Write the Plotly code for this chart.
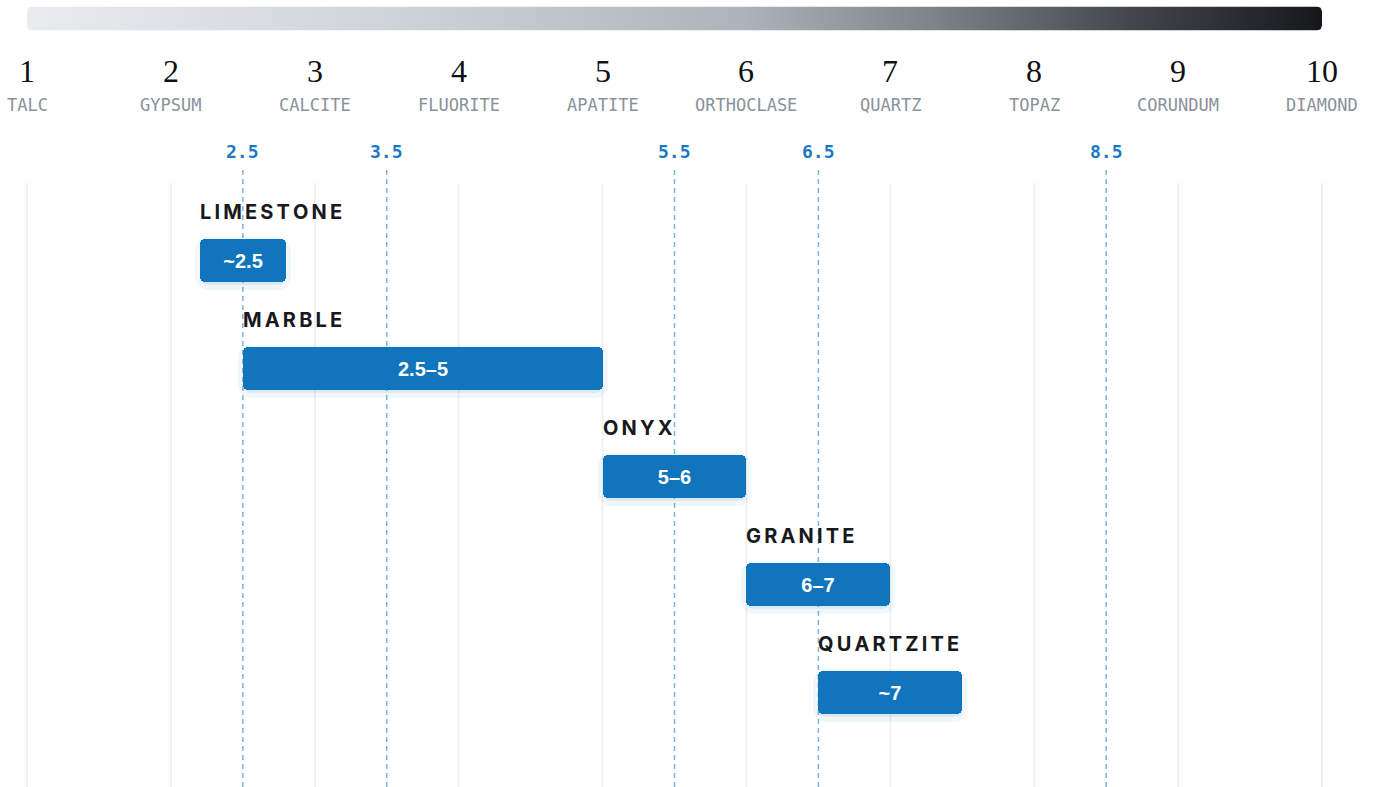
import numpy as np
import plotly.graph_objects as go

# ---------------- data ----------------
HARDNESS = list(range(1, 11))
NUMERAL_LABELS = ["1", "2", "3", "4", "5", "6", "7", "8", "9", "10"]
MINERALS = ["TALC", "GYPSUM", "CALCITE", "FLUORITE", "APATITE",
            "ORTHOCLASE", "QUARTZ", "TOPAZ", "CORUNDUM", "DIAMOND"]
REF_VALUES = [2.5, 3.5, 5.5, 6.5, 8.5]
REF_LABELS = ["2.5", "3.5", "5.5", "6.5", "8.5"]
STONES = ["LIMESTONE", "MARBLE", "ONYX", "GRANITE", "QUARTZITE"]
RANGE_LOW = [2.2, 2.5, 5.0, 6.0, 6.5]
RANGE_HIGH = [2.8, 5.0, 6.0, 7.0, 7.5]
RANGE_TEXT = ["~2.5", "2.5–5", "5–6", "6–7", "~7"]

# ---------------- style ----------------
W, H = 1373, 787
BLUE = "#1075bd"
INK = "#17191c"
GRAY_TXT = "#8a919b"
GRID = "#eceef1"
ROW_PX = 108.0
ROW0_PX = 260.5
X_LEFT_PX, X_RIGHT_PX = 27.0, 1322.0
px_per_unit = (X_RIGHT_PX - X_LEFT_PX) / (HARDNESS[-1] - HARDNESS[0])
x0 = HARDNESS[0] - X_LEFT_PX / px_per_unit
x1 = x0 + W / px_per_unit
y_top = (0 - ROW0_PX) / ROW_PX
y_bot = (H - ROW0_PX) / ROW_PX


def paper_y(px):
    return 1 - px / H


def spaced(s, sep="\u2009"):
    return sep.join(list(s))


rows = list(range(len(STONES)))
fig = go.Figure()

# gradient scale bar (on its own small axis)
rx = 5 / px_per_unit
ry = 5 / 24.0
a0, a1 = HARDNESS[0], HARDNESS[-1]
t = np.linspace(0, np.pi / 2, 8)
gx, gy = [], []
for cx, cy, start in [(a1 - rx, ry, -np.pi / 2), (a1 - rx, 1 - ry, 0),
                      (a0 + rx, 1 - ry, np.pi / 2), (a0 + rx, ry, np.pi)]:
    ang = start + t
    gx += list(cx + rx * np.cos(ang))
    gy += list(cy + ry * np.sin(ang))
gx.append(gx[0])
gy.append(gy[0])
fig.add_trace(go.Scatter(
    x=gx, y=gy, yaxis="y2", mode="lines", fill="toself",
    line=dict(width=0, color="rgba(0,0,0,0)"),
    fillgradient=dict(type="horizontal", colorscale=[
        [0, "#e9ecef"], [0.3, "#cdd2d8"], [0.55, "#aeb4bb"],
        [0.7, "#7e838a"], [0.85, "#44484e"], [1, "#15181b"]]),
    hoverinfo="skip", showlegend=False))

# soft glow behind bars
fig.add_trace(go.Bar(
    orientation="h", y=[r + 0.03 for r in rows], base=RANGE_LOW,
    x=[h - l for l, h in zip(RANGE_LOW, RANGE_HIGH)],
    width=43 / ROW_PX,
    marker=dict(color="rgba(16,117,189,0.10)", cornerradius=8,
                line=dict(color="rgba(16,117,189,0.06)", width=10)),
    hoverinfo="skip", showlegend=False))

# range bars
fig.add_trace(go.Bar(
    orientation="h", y=rows, base=RANGE_LOW,
    x=[h - l for l, h in zip(RANGE_LOW, RANGE_HIGH)],
    width=43 / ROW_PX,
    marker=dict(color=BLUE, cornerradius=5, line=dict(width=0)),
    text=RANGE_TEXT, textposition="inside", insidetextanchor="middle",
    textangle=0, constraintext="none",
    textfont=dict(family="Liberation Sans, Arial, sans-serif", size=20,
                  color="white", weight="bold"),
    hoverinfo="skip", showlegend=False))

shapes = []
for h in HARDNESS:
    shapes.append(dict(type="line", xref="x", yref="paper", x0=h, x1=h,
                       y0=0, y1=paper_y(183), layer="below",
                       line=dict(color=GRID, width=1.5)))
for v in REF_VALUES:
    shapes.append(dict(type="line", xref="x", yref="paper", x0=v, x1=v,
                       y0=0, y1=paper_y(167), layer="below",
                       line=dict(color="rgba(16,117,189,0.55)", width=1.5,
                                 dash="5px,4px")))

ann = []
for h, num, name in zip(HARDNESS, NUMERAL_LABELS, MINERALS):
    ann.append(dict(x=h, y=paper_y(71), xref="x", yref="paper", text=num,
                    showarrow=False, xanchor="center", yanchor="middle",
                    font=dict(family="Liberation Serif, serif", size=32,
                              color="#0f1114")))
    ann.append(dict(x=h, y=paper_y(105), xref="x", yref="paper", text=name,
                    showarrow=False, xanchor="center", yanchor="middle",
                    font=dict(family="DejaVu Sans Mono, monospace", size=17,
                              color=GRAY_TXT)))
for v, lab in zip(REF_VALUES, REF_LABELS):
    ann.append(dict(x=v, y=paper_y(151), xref="x", yref="paper", text=lab,
                    showarrow=False, xanchor="center", yanchor="middle",
                    font=dict(family="DejaVu Sans Mono, monospace", size=18,
                              color="#1a7ac4", weight="bold")))
for r, name, lo in zip(rows, STONES, RANGE_LOW):
    ann.append(dict(x=lo, y=r - 48.5 / ROW_PX, xref="x", yref="y",
                    text=spaced(name), showarrow=False, xanchor="left",
                    yanchor="middle", xshift=-2,
                    font=dict(family="Inter, sans-serif", size=20,
                              color=INK, weight="bold")))

fig.update_layout(
    width=W, height=H, margin=dict(l=0, r=0, t=0, b=0),
    paper_bgcolor="white", plot_bgcolor="white",
    barmode="overlay", bargap=0,
    xaxis=dict(range=[x0, x1], visible=False, fixedrange=True),
    yaxis=dict(range=[y_bot, y_top], visible=False, fixedrange=True),
    yaxis2=dict(domain=[paper_y(30.5), paper_y(6.5)], range=[0, 1],
                visible=False, fixedrange=True, anchor="x"),
    shapes=shapes, annotations=ann, showlegend=False,
)

fig.write_html("out.html", config={"displayModeBar": False},
               post_script="document.body.style.margin='0';")
